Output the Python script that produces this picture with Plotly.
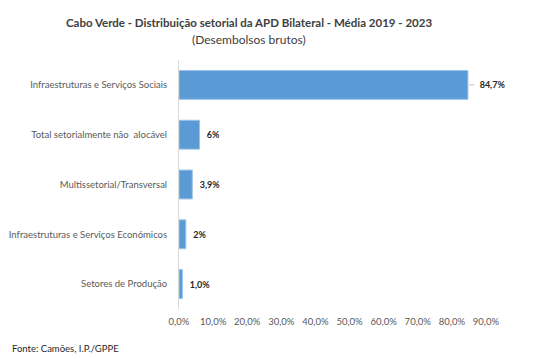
import plotly.graph_objects as go

categories = [
    "Infraestruturas e Serviços Sociais",
    "Total setorialmente não  alocável",
    "Multissetorial/Transversal",
    "Infraestruturas e Serviços Económicos",
    "Setores de Produção",
]
values = [84.7, 6.0, 3.9, 2.0, 1.0]
value_labels = ["84,7%", "6%", "3,9%", "2%", "1,0%"]
tick_vals = [0, 10, 20, 30, 40, 50, 60, 70, 80, 90]
tick_text = ["0,0%", "10,0%", "20,0%", "30,0%", "40,0%", "50,0%", "60,0%", "70,0%", "80,0%", "90,0%"]

FONT = "Lato, Carlito, 'Open Sans', sans-serif"

# The page body has an 8px default margin; size the figure so it fills the 540x359 window.
W, H = 532, 351
L, R, T, B = 171, 54, 52, 50
PW, PH = W - L - R, H - T - B

def px_x(X):  # page px -> paper x
    return (X - 8 - L) / PW

def px_y(Y):  # page px -> paper y
    return (H - B - (Y - 8)) / PH

pads = ["    " if v > 50 else "  " for v in values]

fig = go.Figure(go.Bar(
    x=values,
    y=categories,
    orientation="h",
    marker=dict(color="#5B9BD5", line=dict(color="#9DC3E6", width=1)),
    width=0.58,
    text=[p + t for p, t in zip(pads, value_labels)],
    textposition="outside",
    textfont=dict(family=FONT, size=9, color="#262626", weight="bold"),
    cliponaxis=False,
    hoverinfo="skip",
))

# leader line for the largest label
big = max(range(len(values)), key=lambda i: values[i])
fig.add_shape(type="line", xref="x", yref="y",
              x0=values[big] + 0.3, x1=values[big] + 1.8,
              y0=categories[big], y1=categories[big],
              line=dict(color="#BFBFBF", width=1))

fig.update_layout(
    width=W, height=H,
    margin=dict(l=L, r=R, t=T, b=B, autoexpand=False),
    paper_bgcolor="white", plot_bgcolor="white",
    showlegend=False,
    font=dict(family=FONT, color="#595959"),
    xaxis=dict(
        range=[0, 90], tickvals=tick_vals, ticktext=tick_text,
        showgrid=False, zeroline=False, showline=False,
        tickfont=dict(family=FONT, size=9.5, color="#595959"),
        ticks="", ticklabelstandoff=5, fixedrange=True,
    ),
    yaxis=dict(
        autorange="reversed",
        showgrid=False, zeroline=False,
        showline=True, linecolor="#D9D9D9", linewidth=1,
        ticks="", ticklabelstandoff=9,
        tickfont=dict(family=FONT, size=9.5, color="#595959"),
    ),
    annotations=[
        dict(text="<b>Cabo Verde - Distribuição setorial da APD Bilateral - Média 2019 - 2023</b>",
             xref="paper", yref="paper", x=px_x(249), y=px_y(23),
             xanchor="center", yanchor="middle", showarrow=False,
             font=dict(family=FONT, size=11.5, color="#404040")),
        dict(text="(Desembolsos brutos)",
             xref="paper", yref="paper", x=px_x(249), y=px_y(40),
             xanchor="center", yanchor="middle", showarrow=False,
             font=dict(family=FONT, size=12, color="#404040")),
        dict(text="Fonte: Camões, I.P./GPPE",
             xref="paper", yref="paper", x=px_x(10), y=px_y(348),
             xanchor="left", yanchor="middle", showarrow=False,
             font=dict(family=FONT, size=9.5, color="#262626")),
    ],
)

fig.write_html("out.html")
